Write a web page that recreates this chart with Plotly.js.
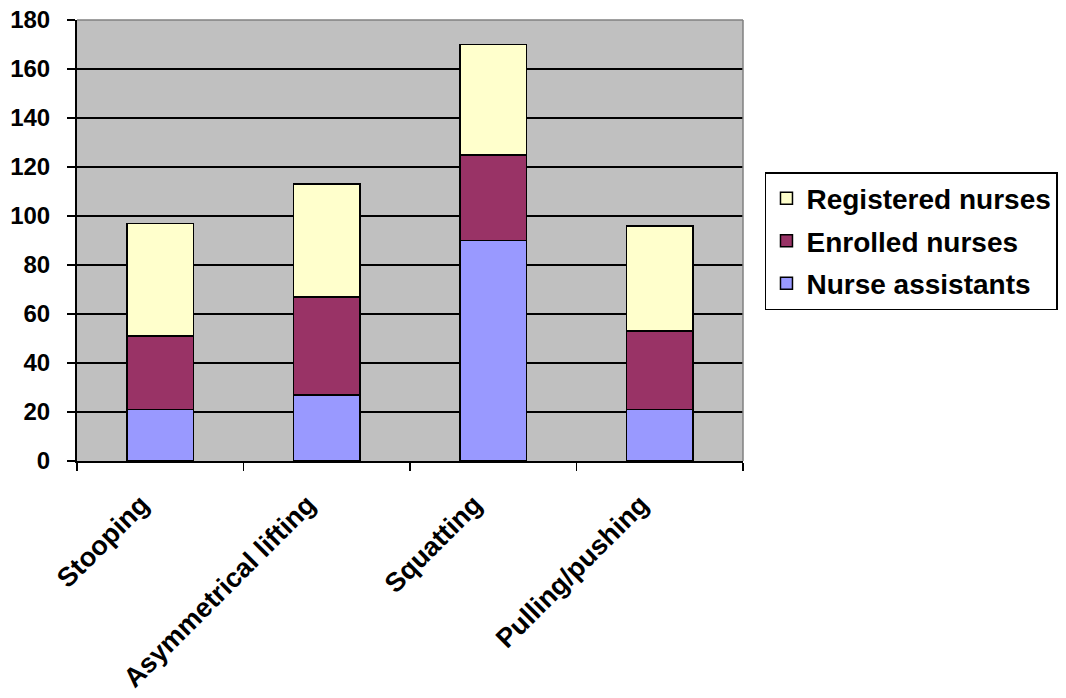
<!DOCTYPE html>
<html>
<head>
<meta charset="utf-8">
<script src="https://cdn.plot.ly/plotly-3.0.1.min.js"></script>
<style>html,body{margin:0;padding:0;background:#fff;}#chart{width:1066px;height:698px;}</style>
</head>
<body>
<div id="chart"></div>
<script>
const categories = ["Stooping", "Asymmetrical lifting", "Squatting", "Pulling/pushing"];
const nurseAssistants = [21, 27, 90, 21];
const enrolledNurses = [30, 40, 35, 32];
const registeredNurses = [46, 46, 45, 43];
const yTicks = [0, 20, 40, 60, 80, 100, 120, 140, 160, 180];

const fontFam = "Liberation Sans, Arial, sans-serif";
const barLine = {color: "#000000", width: 1.5};

const traces = [
  {type: "bar", name: "Nurse assistants", x: categories, y: nurseAssistants,
   marker: {color: "#9999FF", line: barLine}, legendrank: 3, legendgroup: "na"},
  {type: "bar", name: "Enrolled nurses", x: categories, y: enrolledNurses,
   marker: {color: "#993366", line: barLine}, legendrank: 2, legendgroup: "en"},
  {type: "bar", name: "Registered nurses", x: categories, y: registeredNurses,
   marker: {color: "#FFFFCC", line: barLine}, legendrank: 1, legendgroup: "rn"}
];

const layout = {
  width: 1066, height: 698,
  margin: {l: 77, r: 323, t: 20, b: 237, pad: 0, autoexpand: false},
  paper_bgcolor: "#FFFFFF",
  plot_bgcolor: "#C0C0C0",
  barmode: "stack",
  bargap: 0.6,
  showlegend: true,
  font: {family: fontFam, color: "#000000", size: 20, weight: "bold"},
  xaxis: {
    type: "category",
    range: [-0.5, 3.5],
    tickangle: -45,
    tickson: "boundaries",
    ticks: "outside", ticklen: 8, tickwidth: 1.5, tickcolor: "#000",
    showline: true, linecolor: "#000", linewidth: 2,
    showgrid: false,
    ticklabelstandoff: 15,
    ticklabelshift: -19,
    tickfont: {family: fontFam, size: 27, weight: "bold", color: "#000"}
  },
  yaxis: {
    range: [0, 180],
    tickvals: yTicks,
    ticktext: yTicks.map(String),
    ticks: "outside", ticklen: 8, tickwidth: 1.5, tickcolor: "#000",
    showline: true, linecolor: "#000", linewidth: 2,
    showgrid: true, gridcolor: "#000000", gridwidth: 2,
    zeroline: false,
    ticklabelstandoff: 12,
    tickfont: {family: fontFam, size: 24, weight: "bold", color: "#000"}
  },
  legend: {
    x: 1.033, y: 0.655, xanchor: "left", yanchor: "top",
    bgcolor: "#FFFFFF", bordercolor: "#000000", borderwidth: 1.5,
    traceorder: "grouped",
    tracegroupgap: 3,
    itemclick: false,
    font: {family: fontFam, size: 28, weight: "bold", color: "#000"}
  },
  shapes: [
    {type: "line", xref: "paper", yref: "paper", x0: 0, x1: 1, y0: 1, y1: 1,
     line: {color: "#808080", width: 1.5}},
    {type: "line", xref: "paper", yref: "paper", x0: 1, x1: 1, y0: 0, y1: 1,
     line: {color: "#808080", width: 1.5}}
  ]
};

Plotly.newPlot("chart", traces, layout, {displayModeBar: false, staticPlot: true});
</script>
</body>
</html>
